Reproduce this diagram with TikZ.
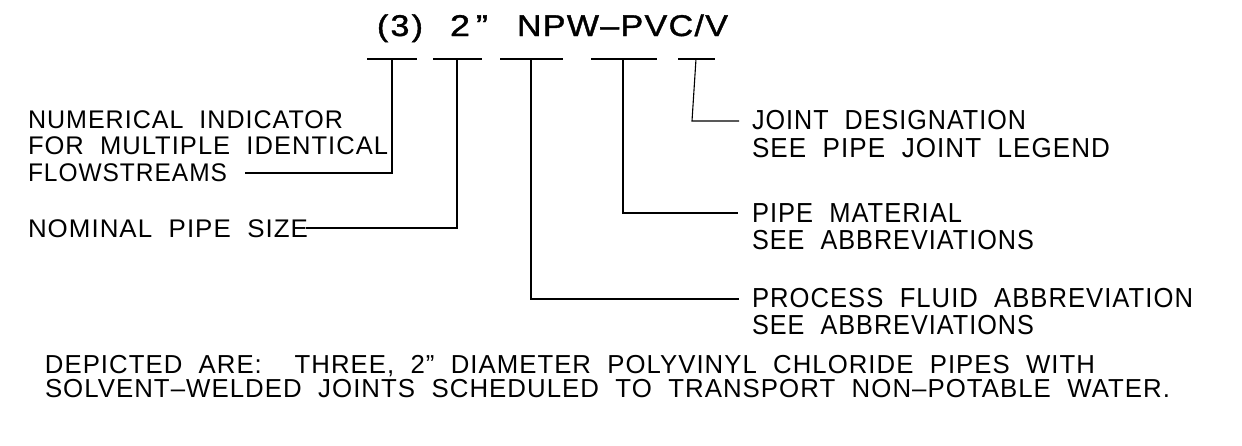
\documentclass[tikz,border=0pt]{standalone}
\usepackage{fontspec}
\usepackage{graphicx}
\setmainfont{Liberation Sans}[WordSpace=2,LetterSpace=4]
\newfontfamily\titlefont{Liberation Sans}[WordSpace=2,LetterSpace=4,FakeBold=1.2]
\newcommand{\fitline}[2]{\resizebox{#1}{\height}{#2}}
\tikzset{
  txt/.style={inner sep=0pt, outer sep=0pt, anchor=base west},
  lefttxt/.style={txt, font=\fontsize{25.5}{27}\selectfont},
  righttxt/.style={txt, font=\fontsize{27.5}{29}\selectfont},
  bottxt/.style={txt, font=\fontsize{26}{28}\selectfont},
  titletxt/.style={txt, font=\titlefont\fontsize{30}{32}\selectfont},
  uline/.style={line width=1.1pt},
  leader/.style={line width=1.1pt},
}
\begin{document}
\begin{tikzpicture}[x=1pt,y=-1pt]
\useasboundingbox (0,0) rectangle (1242,445);
\fill[white] (0,0) rectangle (1242,445);
% title
\node[titletxt] (t1) at (377,36) {\fitline{46pt}{(\kern2pt3\kern2pt)}};
\node[titletxt] (t2) at (450,36) {\fitline{38pt}{2\kern5pt”}};
\node[titletxt] (t3) at (517,36) {\fitline{211pt}{NPW–PVC/V}};
% underlines
\coordinate (a1) at (367,59); \coordinate (b1) at (417,59); \coordinate (m1) at (392,59);
\coordinate (a2) at (433,59); \coordinate (b2) at (482,59); \coordinate (m2) at (457,59);
\coordinate (a3) at (500,59); \coordinate (b3) at (563,59); \coordinate (m3) at (531,59);
\coordinate (a4) at (591,59); \coordinate (b4) at (657,59); \coordinate (m4) at (623,59);
\coordinate (a5) at (678,59); \coordinate (b5) at (715,59); \coordinate (m5) at (696,59);
\foreach \i in {1,...,5} \draw[uline] (a\i) -- (b\i);
% left texts
\node[lefttxt] (l1) at (28,128) {\fitline{315pt}{NUMERICAL\ INDICATOR}};
\node[lefttxt] (l2) at (28,154) {\fitline{360pt}{FOR\ MULTIPLE\ IDENTICAL}};
\node[lefttxt] (l3) at (28,181) {\fitline{199pt}{FLOWSTREAMS}};
\node[lefttxt] (l4) at (28,237) {\fitline{280pt}{NOMINAL\ PIPE\ SIZE}};
% right texts
\node[righttxt] (r1) at (752,129) {\fitline{274pt}{JOINT\ DESIGNATION}};
\node[righttxt] (r2) at (752,157) {\fitline{358pt}{SEE\ PIPE\ JOINT\ LEGEND}};
\node[righttxt] (r3) at (752,222) {\fitline{210pt}{PIPE\ MATERIAL}};
\node[righttxt] (r4) at (752,249) {\fitline{282pt}{SEE\ ABBREVIATIONS}};
\node[righttxt] (r5) at (752,307) {\fitline{441pt}{PROCESS\ FLUID\ ABBREVIATION}};
\node[righttxt] (r6) at (752,334) {\fitline{282pt}{SEE\ ABBREVIATIONS}};
% bottom text
\node[bottxt] (d1) at (45,373) {\fitline{1050pt}{DEPICTED\ ARE:\ \ THREE,\ 2”\ DIAMETER\ POLYVINYL\ CHLORIDE\ PIPES\ WITH}};
\node[bottxt] (d2) at (45,397) {\fitline{1125pt}{SOLVENT–WELDED\ JOINTS\ SCHEDULED\ TO\ TRANSPORT\ NON–POTABLE\ WATER.}};
% leader ends
\coordinate (e1) at (245,173);
\coordinate (e2) at (306,228);
\coordinate (e3) at (739,299);
\coordinate (e4) at (738,213);
\coordinate (k5) at (692,121);
\coordinate (e5) at (739,121);
\draw[leader] (m1) |- (e1);
\draw[leader] (m2) |- (e2);
\draw[leader] (m3) |- (e3);
\draw[leader] (m4) |- (e4);
\draw[leader] (m5) -- (k5) -- (e5);
\end{tikzpicture}
\end{document}
